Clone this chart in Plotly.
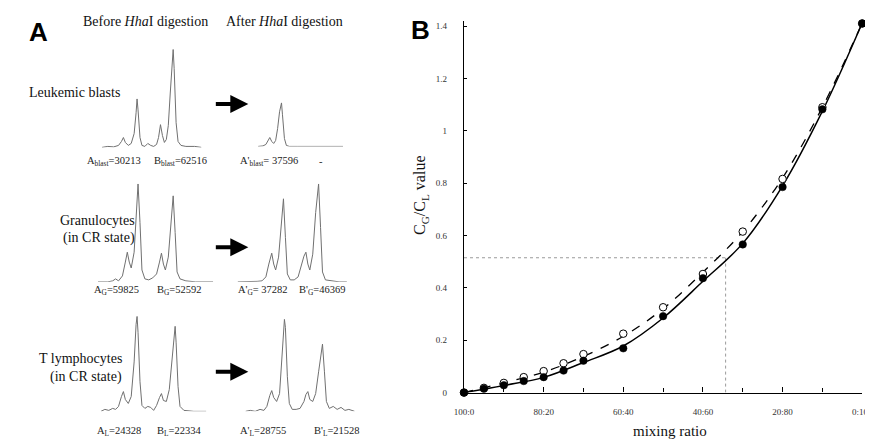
import plotly.graph_objects as go

W, H = 873, 440

# ---------------- Panel B data ----------------
mix_pct = [0, 5, 10, 15, 20, 25, 30, 40, 50, 60, 70, 80, 90, 100]
mix_tick_vals = [0, 20, 40, 60, 80, 100]
mix_tick_text = ["100:0", "80:20", "60:40", "40:60", "20:80", "0:100"]
filled_vals = [0, 0.015, 0.028, 0.044, 0.059, 0.084, 0.122, 0.169, 0.292, 0.437, 0.566, 0.785, 1.082, 1.41]
open_vals = [0, 0.018, 0.037, 0.059, 0.082, 0.112, 0.147, 0.225, 0.326, 0.453, 0.615, 0.816, 1.09, 1.41]
curve_x = [0, 10, 20, 30, 40, 50, 60, 70, 80, 90, 100]
solid_curve = [0, 0.027, 0.058, 0.115, 0.178, 0.285, 0.425, 0.57, 0.79, 1.075, 1.412]
dashed_curve = [0, 0.037, 0.078, 0.138, 0.215, 0.32, 0.46, 0.615, 0.82, 1.09, 1.412]
y_tick_vals = [0, 0.2, 0.4, 0.6, 0.8, 1.0, 1.2, 1.4]
y_tick_text = ["0", "0.2", "0.4", "0.6", "0.8", "1", "1.2", "1.4"]
patient_mix = 65.7
patient_value = 0.515

# ---------------- Panel A data (electropherograms: time, intensity) ----------------
leuk_before_t = [0, 6, 12, 17, 20, 22, 24, 27, 30, 33, 35, 36, 37, 39, 41, 44, 47, 50, 53, 56, 58, 60, 62, 64, 66, 68, 70, 72, 73, 74, 76, 78, 81, 86, 95, 102]
leuk_before_i = [0, 1, 0.5, 2, 6, 10, 5, 2, 4, 14, 35, 49, 38, 10, 2, 1, 4, 2, 1, 3, 10, 23, 12, 5, 8, 22, 55, 92, 99, 80, 25, 6, 2, 1, 1, 0]
leuk_after_t = [0, 5, 8, 10, 12, 14, 16, 18, 20, 22, 24, 25, 27, 29, 32, 40, 60, 87]
leuk_after_i = [0, 0.5, 2, 5, 9, 5, 3, 6, 18, 35, 44, 32, 8, 1, 0, 0, 0, 0]
gran_before_t = [0, 10, 15, 18, 21, 25, 28, 30, 32, 34, 37, 39, 41, 43, 45, 48, 52, 56, 60, 63, 65, 67, 69, 72, 75, 77, 79, 81, 84, 90, 100, 118]
gran_before_i = [0, 0, 1, 3, 1, 6, 20, 30, 20, 14, 30, 70, 99, 60, 12, 3, 2, 4, 8, 20, 29, 18, 12, 25, 65, 87, 50, 10, 3, 1, 0, 0]
gran_after_t = [0, 10, 20, 25, 29, 32, 35, 37, 39, 42, 45, 47, 49, 51, 54, 58, 62, 65, 68, 70, 72, 74, 77, 80, 83, 85, 87, 90, 96, 104, 112]
gran_after_i = [0, 0, 0.5, 1, 5, 18, 29, 18, 12, 25, 62, 84, 45, 8, 2, 2, 5, 15, 26, 30, 18, 12, 28, 70, 99, 55, 10, 2, 1, 0, 0]
lymph_before_t = [0, 4, 8, 12, 15, 18, 21, 23, 25, 28, 31, 34, 36, 37, 38, 40, 42, 45, 48, 51, 54, 57, 60, 62, 64, 67, 70, 73, 75, 76, 77, 79, 81, 85, 95, 108]
lymph_before_i = [0, 2, 1, 3, 2, 5, 15, 20, 12, 8, 15, 50, 88, 96, 80, 30, 6, 3, 5, 4, 1, 6, 14, 18, 11, 10, 22, 55, 80, 86, 70, 25, 5, 1, 0, 0]
lymph_after_t = [0, 5, 10, 15, 19, 22, 25, 27, 29, 32, 35, 38, 40, 41, 43, 45, 48, 52, 56, 60, 62, 64, 66, 69, 72, 75, 78, 79, 81, 83, 86, 90, 94, 98, 102, 106, 112]
lymph_after_i = [0, 1, 0, 2, 1, 5, 16, 21, 14, 10, 18, 60, 93, 85, 35, 8, 2, 2, 3, 10, 17, 20, 12, 10, 18, 40, 65, 68, 40, 10, 3, 5, 2, 4, 1, 2, 0]

row_titles = [["Leukemic blasts"], ["Granulocytes", "(in CR state)"], ["T lymphocytes", "(in CR state)"]]
peak_labels = [
    ["A<sub>blast</sub>=30213", "B<sub>blast</sub>=62516", "A'<sub>blast</sub>= 37596", "-"],
    ["A<sub>G</sub>=59825", "B<sub>G</sub>=52592", "A'<sub>G</sub>= 37282", "B'<sub>G</sub>=46369"],
    ["A<sub>L</sub>=24328", "B<sub>L</sub>=22334", "A'<sub>L</sub>=28755", "B'<sub>L</sub>=21528"],
]

# ---------------- layout helpers ----------------
def px(x):
    return x / W

def py(y):
    return 1 - y / H

SERIF = "Liberation Serif"
SANS = "Liberation Sans"

fig = go.Figure()
layout = dict(
    width=W, height=H, margin=dict(l=0, r=0, t=0, b=0),
    paper_bgcolor="white", plot_bgcolor="rgba(0,0,0,0)", showlegend=False,
    font=dict(family=SERIF, color="#111"),
)

# electropherogram panels: (t, i, left px, width px, baseline px)
panelA = [
    (leuk_before_t, leuk_before_i, 86, 102, 141),
    (leuk_after_t, leuk_after_i, 246, 87, 140),
    (gran_before_t, gran_before_i, 82, 118, 277),
    (gran_after_t, gran_after_i, 225, 112, 277),
    (lymph_before_t, lymph_before_i, 85, 108, 408),
    (lymph_after_t, lymph_after_i, 233, 112, 408),
]
for k, (t, inten, x0, w, b) in enumerate(panelA, start=2):
    fig.add_trace(go.Scatter(x=t, y=inten, mode="lines", line=dict(color="#707070", width=1),
                             xaxis=f"x{k}", yaxis=f"y{k}", hoverinfo="skip"))
    layout[f"xaxis{k}"] = dict(domain=[px(x0), px(x0 + w)], range=[0, w], visible=False, anchor=f"y{k}", fixedrange=True)
    layout[f"yaxis{k}"] = dict(domain=[py(b), py(b - 105)], range=[0, 105], visible=False, anchor=f"x{k}", fixedrange=True)

# ---------------- Panel B traces ----------------
fig.add_trace(go.Scatter(x=[0, patient_mix], y=[patient_value, patient_value], mode="lines",
                         line=dict(color="#9a9a9a", width=1, dash="dot"), xaxis="x", yaxis="y", hoverinfo="skip"))
fig.add_trace(go.Scatter(x=[patient_mix, patient_mix], y=[0, patient_value], mode="lines",
                         line=dict(color="#9a9a9a", width=1, dash="dot"), xaxis="x", yaxis="y", hoverinfo="skip"))
fig.add_trace(go.Scatter(x=curve_x, y=dashed_curve, mode="lines", line=dict(color="black", width=1.3, dash="dash", shape="spline"),
                         xaxis="x", yaxis="y", cliponaxis=False))
fig.add_trace(go.Scatter(x=curve_x, y=solid_curve, mode="lines", line=dict(color="black", width=1.5, shape="spline"),
                         xaxis="x", yaxis="y", cliponaxis=False))
fig.add_trace(go.Scatter(x=mix_pct, y=open_vals, mode="markers",
                         marker=dict(symbol="circle", size=7.5, color="white", line=dict(color="black", width=1)),
                         xaxis="x", yaxis="y", cliponaxis=False))
fig.add_trace(go.Scatter(x=mix_pct, y=filled_vals, mode="markers",
                         marker=dict(symbol="circle", size=7.5, color="black", line=dict(color="black", width=0.5)),
                         xaxis="x", yaxis="y", cliponaxis=False))

layout["xaxis"] = dict(
    domain=[px(457), px(865)], range=[0, 100], anchor="y",
    showline=True, linecolor="black", linewidth=1.3, showgrid=False, zeroline=False,
    tickmode="array", tickvals=mix_tick_vals, ticktext=mix_tick_text,
    ticks="inside", ticklen=5, tickcolor="black", tickwidth=1,
    minor=dict(dtick=10, tick0=0, ticks="inside", ticklen=4, tickcolor="black"),
    tickfont=dict(family=SERIF, size=9, color="#333"), ticklabelstandoff=10,
    ticklabeloverflow="allow", fixedrange=True,
)
layout["yaxis"] = dict(
    domain=[py(389), py(13)], range=[0, 1.42], anchor="x",
    showline=True, linecolor="black", linewidth=1.3, showgrid=False, zeroline=False,
    tickmode="array", tickvals=y_tick_vals, ticktext=y_tick_text,
    ticks="inside", ticklen=3, tickcolor="black",
    tickfont=dict(family=SERIF, size=9, color="#333"), ticklabelstandoff=14,
    ticklabeloverflow="allow", fixedrange=True,
)

# ---------------- annotations ----------------
ann = []
def text(x, y, s, size=14, xanchor="center", family=SERIF, color="#111", angle=0):
    ann.append(dict(x=px(x), y=py(y), xref="paper", yref="paper", text=s, showarrow=False,
                    xanchor=xanchor, yanchor="middle", textangle=angle, borderpad=0,
                    font=dict(family=family, size=size, color=color)))

text(21, 24, "<b>A</b>", size=26, family=SANS, color="black")
text(412, 22, "<b>B</b>", size=26, family=SANS, color="black")
text(131, 14, "Before <i>Hha</i>I digestion", size=14)
text(273, 14, "After <i>Hha</i>I digestion", size=14)

# row titles
text(10, 85, row_titles[0][0], size=14, xanchor="left")
text(121, 215, row_titles[1][0], size=14, xanchor="right")
text(121, 233, row_titles[1][1], size=14, xanchor="right")
text(108, 355, row_titles[2][0], size=14, xanchor="right")
text(108, 373, row_titles[2][1], size=14, xanchor="right")

# peak-area labels
label_x = [[98, 166, 257, 310], [101, 165, 251, 312], [103, 165, 251, 327]]
label_y = [155, 286, 428]
for r in range(3):
    for c in range(4):
        text(label_x[r][c], label_y[r], peak_labels[r][c], size=10.5, color="#222")

# arrows
for yy in [97, 242, 368]:
    ann.append(dict(x=px(236), y=py(yy), xref="paper", yref="paper", ax=-34, ay=0, axref="pixel", ayref="pixel",
                    text="", showarrow=True, arrowhead=2, arrowsize=0.9, arrowwidth=4, arrowcolor="black"))

# panel B titles
text(413, 190, "C<sub>G</sub>/C<sub>L</sub> value", size=16, angle=-90)
text(668, 428, "mixing ratio", size=15)

layout["annotations"] = ann
fig.update_layout(**layout)
fig.write_html("out.html")
